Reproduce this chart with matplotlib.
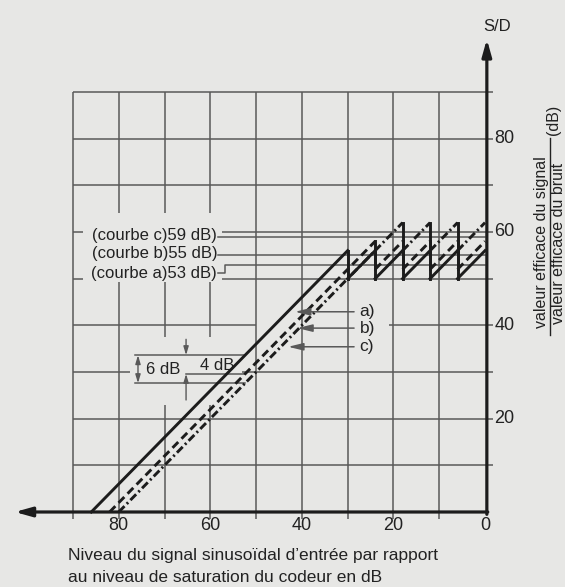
import matplotlib
matplotlib.use("Agg")
import matplotlib.pyplot as plt
from matplotlib.patches import Rectangle

# ---------------- data ----------------
x_tick_values = [80, 60, 40, 20, 0]          # level below coder saturation (dB)
y_tick_values = [80, 60, 40, 20]             # S/D (dB)
grid_x = [0, 10, 20, 30, 40, 50, 60, 70, 80, 90]
grid_y = [10, 20, 30, 40, 50, 60, 70, 80, 90]

curve_a_level = [86, 30, 30, 24, 24, 18, 18, 12, 12, 6, 6, 0]
curve_a_snr = [0, 56, 50, 56, 50, 56, 50, 56, 50, 56, 50, 56]
curve_b_level = [82, 24, 24, 18, 18, 12, 12, 6, 6, 0]
curve_b_snr = [0, 58, 52, 58, 52, 58, 52, 58, 52, 58]
curve_c_level = [80, 18, 18, 12, 12, 6, 6, 0]
curve_c_snr = [0, 62, 56, 62, 56, 62, 56, 62]

mean_labels = ["(courbe c)59 dB)", "(courbe b)55 dB)", "(courbe a)53 dB)"]
mean_values = [59, 55, 53]
curve_names = ["a)", "b)", "c)"]
measure_level = 52.4                          # level where 6 dB / 4 dB are shown

# ---------------- style ----------------
BG = "#e7e7e5"
INK = "#1c1c1c"
GRID = "#595959"
TXT = "#222222"
plt.rcParams["font.family"] = ["Liberation Sans", "DejaVu Sans"]

fig = plt.figure(figsize=(5.65, 5.87), dpi=100)
fig.patch.set_facecolor(BG)
ax = fig.add_axes([0, 0, 1, 1])
ax.set_facecolor(BG)
ax.set_xlim(105.94, -17.47)
ax.set_ylim(-16.07, 109.7)
ax.axis("off")

# ---------------- grid ----------------
for gy in grid_y:
    ax.plot([max(grid_x), -1.8], [gy, gy], color=GRID, lw=1.1, zorder=1,
            solid_capstyle="butt")
# mask horizontal grid behind arrow labels a) b) c)
ax.add_patch(Rectangle((21.0, 38.2), 29.0, 3.4, facecolor=BG, edgecolor="none", zorder=1.5))
for gx in grid_x[1:]:
    ax.plot([gx, gx], [-1.5, max(grid_y)], color=GRID, lw=1.1, zorder=2,
            solid_capstyle="butt")
# masks behind label blocks
ax.add_patch(Rectangle((57.4, 49.2), 30.4, 14.8, facecolor=BG, edgecolor="none", zorder=2.5))
ax.add_patch(Rectangle((53.0, 23.0), 24.5, 14.5, facecolor=BG, edgecolor="none", zorder=2.5))

# ---------------- axes lines ----------------
ax.annotate("", xy=(102.7, 0), xytext=(-0.6, 0),
            arrowprops=dict(arrowstyle="-|>,head_length=1.0,head_width=0.28",
                            lw=2.3, color=INK, shrinkA=0, shrinkB=0), zorder=5)
ax.annotate("", xy=(-0.4, 101.3), xytext=(-0.4, -0.5),
            arrowprops=dict(arrowstyle="-|>,head_length=1.0,head_width=0.28",
                            lw=2.3, color=INK, shrinkA=0, shrinkB=0), zorder=5)
ax.text(-2.6, 104.0, "S/D", ha="center", va="center", fontsize=12,
        color=TXT, zorder=6)

for v in x_tick_values:
    ax.text(v, -3.0, str(v), ha="center", va="center", fontsize=13, color=TXT)
for v in y_tick_values:
    ax.text(-2.0, v, str(v), ha="left", va="center", fontsize=13, color=TXT,
            bbox=dict(facecolor=BG, edgecolor="none", pad=0.5))

# ---------------- curves ----------------
styles = {
    "a": dict(ls="-"),
    "b": dict(ls=(0, (2.8, 1.6))),
    "c": dict(ls=(0, (2.8, 1.1, 0.7, 1.1))),
}
curves = [("a", curve_a_level, curve_a_snr),
          ("b", curve_b_level, curve_b_snr),
          ("c", curve_c_level, curve_c_snr)]
for key, lv, sn in curves:
    for i in range(len(lv) - 1):
        seg_x = [lv[i], lv[i + 1]]
        seg_y = [sn[i], sn[i + 1]]
        if lv[i] == lv[i + 1]:
            ax.plot(seg_x, seg_y, color=INK, lw=2.1, ls="-", zorder=4)
        else:
            ax.plot(seg_x, seg_y, color=INK, lw=2.1, zorder=4,
                    dash_capstyle="butt", **styles[key])

# ---------------- mean level reference lines ----------------
label_right = 58.5
for txt, val in zip(mean_labels, mean_values):
    if val == 53:
        ty = 51.2
        ax.plot([label_right - 0.2, 56.8, 56.8, 0], [ty, ty, val, val],
                color=GRID, lw=1.1, zorder=3)
    else:
        ty = val + 0.3
        ax.plot([label_right - 0.2, 0], [val, val], color=GRID, lw=1.1, zorder=3)
    ax.text(label_right, ty, txt, ha="right", va="center", fontsize=12,
            color=TXT, zorder=6)

# ---------------- arrows a) b) c) ----------------
arrow_snr = [42.9, 39.4, 35.4]
for name, (key, lv, sn), s in zip(curve_names, curves, arrow_snr):
    tip = lv[0] - s - 1.6
    ax.annotate("", xy=(tip, s), xytext=(28.6, s),
                arrowprops=dict(arrowstyle="-|>,head_length=0.9,head_width=0.22",
                                lw=1.1, color=GRID, shrinkA=0, shrinkB=0), zorder=5)
    ax.text(27.4, s, name, ha="left", va="center", fontsize=12.5, color=TXT)

# ---------------- 6 dB / 4 dB dimension ----------------
ya = curve_a_level[0] - measure_level
yb = curve_b_level[0] - measure_level
yc = curve_c_level[0] - measure_level
ax.plot([76.5, measure_level], [ya, ya], color=GRID, lw=1.1, zorder=3)
ax.plot([76.5, measure_level], [yc, yc], color=GRID, lw=1.1, zorder=3)
ax.plot([65.3, measure_level], [yb, yb], color=GRID, lw=1.1, zorder=3)
ax.annotate("", xy=(75.8, ya), xytext=(75.8, yc),
            arrowprops=dict(arrowstyle="<|-|>,head_length=0.5,head_width=0.15",
                            lw=1.0, color=GRID, shrinkA=0, shrinkB=0), zorder=5)
ax.text(70.3, (ya + yc) / 2, "6 dB", ha="center", va="center", fontsize=12, color=TXT)
ax.annotate("", xy=(65.3, ya), xytext=(65.3, 37.0),
            arrowprops=dict(arrowstyle="-|>,head_length=0.5,head_width=0.15",
                            lw=1.0, color=GRID, shrinkA=0, shrinkB=0), zorder=5)
ax.annotate("", xy=(65.3, yb), xytext=(65.3, 24.0),
            arrowprops=dict(arrowstyle="-|>,head_length=0.5,head_width=0.15",
                            lw=1.0, color=GRID, shrinkA=0, shrinkB=0), zorder=5)
ax.text(58.6, (ya + yb) / 2 - 0.3, "4 dB", ha="center", va="center", fontsize=12, color=TXT)

# ---------------- vertical axis title (fraction) ----------------
ax.text(-12.3, 57.9, "valeur efficace du signal", rotation=90, ha="center",
        va="center", fontsize=11.5, color=TXT)
ax.plot([-14.1, -14.1], [37.9, 80.1], color=TXT, lw=1.0)
ax.text(-14.9, 84.0, "(dB)", rotation=90, ha="center", va="center",
        fontsize=11.5, color=TXT)
ax.text(-16.0, 57.6, "valeur efficace du bruit", rotation=90, ha="center",
        va="center", fontsize=11.5, color=TXT)

# ---------------- bottom caption ----------------
ax.text(91.1, -9.4, "Niveau du signal sinusoïdal d’entrée par rapport",
        ha="left", va="center", fontsize=12.5, color=TXT)
ax.text(91.1, -14.1, "au niveau de saturation du codeur en dB",
        ha="left", va="center", fontsize=12.5, color=TXT)

fig.savefig("out.png", dpi=100, facecolor=BG)
